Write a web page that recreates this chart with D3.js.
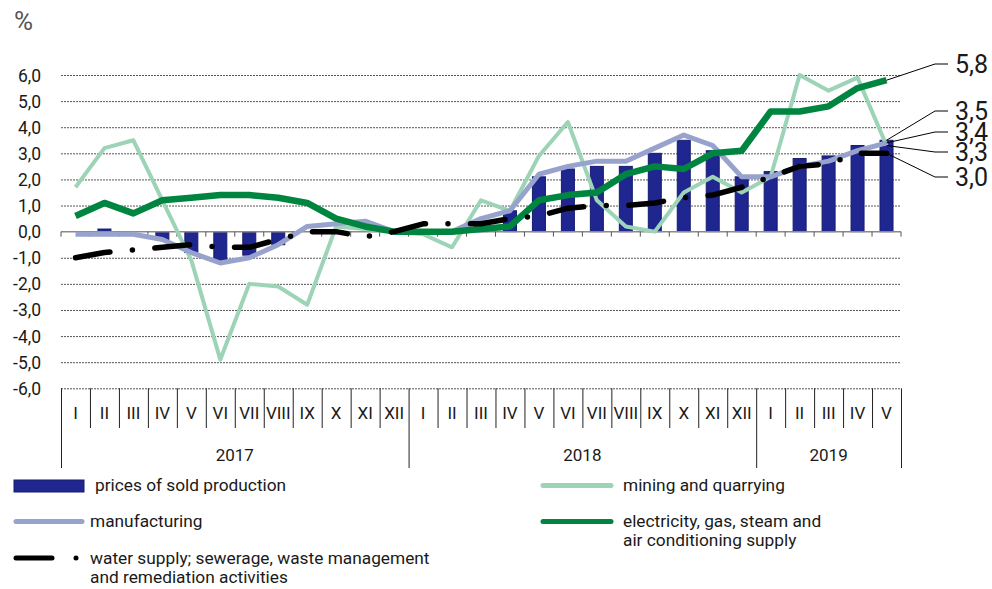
<!DOCTYPE html>
<html>
<head>
<meta charset="utf-8">
<script src="https://cdn.jsdelivr.net/npm/d3@7"></script>
<style>
  body { margin: 0; background: #fff; }
  svg { display: block; font-family: Roboto, "Open Sans", sans-serif; }
</style>
</head>
<body>
<div id="graph"></div>
<script>
// months and years on the category axis
const months = ["I","II","III","IV","V","VI","VII","VIII","IX","X","XI","XII",
                "I","II","III","IV","V","VI","VII","VIII","IX","X","XI","XII",
                "I","II","III","IV","V"]
const years = [{ label: "2017", from: 0, to: 12 }, { label: "2018", from: 12, to: 24 }, { label: "2019", from: 24, to: 29 }]
const yTicks = [-6,-5,-4,-3,-2,-1,0,1,2,3,4,5,6]

// series values, %
const prices = [0, 0.1, 0, -0.3, -0.8, -1.1, -0.9, -0.5, 0, 0, 0, 0,
                0, 0, 0.2, 0.8, 2.1, 2.4, 2.5, 2.5, 3.0, 3.5, 3.1, 2.1,
                2.3, 2.8, 2.9, 3.3, 3.5]
const manufacturing = [-0.1, -0.1, -0.1, -0.3, -0.8, -1.2, -1.0, -0.5, 0.2, 0.3, 0.4, 0.0,
                       0.0, 0.0, 0.5, 0.8, 2.2, 2.5, 2.7, 2.7, 3.2, 3.7, 3.3, 2.1,
                       2.1, 2.5, 2.7, 3.1, 3.4]
const mining = [1.7, 3.2, 3.5, 1.2, -1.1, -4.9, -2.0, -2.1, -2.8, 0.2, 0.1, 0.0,
                -0.1, -0.6, 1.2, 0.8, 2.9, 4.2, 1.2, 0.2, 0.0, 1.5, 2.1, 1.5,
                2.1, 6.0, 5.4, 5.9, 3.3]
const electricity = [0.6, 1.1, 0.7, 1.2, 1.3, 1.4, 1.4, 1.3, 1.1, 0.5, 0.2, 0.0,
                     0.0, 0.0, 0.1, 0.2, 1.2, 1.4, 1.5, 2.2, 2.5, 2.4, 3.0, 3.1,
                     4.6, 4.6, 4.8, 5.5, 5.8]
const water = [-1.0, -0.8, -0.7, -0.6, -0.5, -0.6, -0.6, -0.3, 0.0, 0.0, -0.2, 0.0,
               0.3, 0.3, 0.3, 0.5, 0.6, 0.9, 1.0, 1.0, 1.1, 1.3, 1.4, 1.7,
               2.1, 2.5, 2.6, 3.0, 3.0]

// end-of-series labels (value, label baseline)
const endLabels = [
  { value: electricity[28], text: "5,8", y: 73 },
  { value: prices[28], text: "3,5", y: 120 },
  { value: manufacturing[28], text: "3,4", y: 141 },
  { value: mining[28], text: "3,3", y: 161 },
  { value: water[28], text: "3,0", y: 186 }
]

const width = 992, height = 589
const svg = d3.select('#graph').append('svg').attr('width', width).attr('height', height)

const plotLeft = 61, plotRight = 901, plotTop = 75, plotBottom = 388.3

const xScale = d3.scaleBand().domain(d3.range(months.length)).range([plotLeft, plotRight]).padding(0)
const yScale = d3.scaleLinear().domain([-6, 6]).range([plotBottom, plotTop])
const step = xScale.step()
const xc = i => xScale(i) + step / 2

// "%" unit
svg.append('text').attr('x', 14).attr('y', 30).attr('font-size', 26).attr('fill', '#555').text('%')

// gridlines
svg.append('g').selectAll('line').data(yTicks.filter(v => v !== 0)).join('line')
  .attr('x1', plotLeft).attr('x2', plotRight)
  .attr('y1', d => yScale(d) + 0.5).attr('y2', d => yScale(d) + 0.5)
  .attr('stroke', '#555').attr('stroke-width', 1).attr('stroke-dasharray', '2,1')

// y tick labels
svg.append('g').selectAll('text').data(yTicks).join('text')
  .attr('x', 41).attr('y', d => yScale(d) + 6.5)
  .attr('text-anchor', 'end').attr('font-size', 17.5).attr('fill', '#1a1a1a')
  .text(d => d3.format('.1f')(d).replace('.', ',').replace('−', '-'))

// bars
svg.append('g').selectAll('rect').data(prices).join('rect')
  .attr('x', (d, i) => xc(i) - 6.5)
  .attr('width', 13)
  .attr('y', d => yScale(Math.max(0, d)))
  .attr('height', d => Math.abs(yScale(d) - yScale(0)))
  .attr('fill', '#1f2690').attr('stroke', '#161c6e').attr('stroke-width', d => d === 0 ? 0 : 1)

// zero line + small ticks
svg.append('line').attr('x1', plotLeft).attr('x2', plotRight)
  .attr('y1', yScale(0)).attr('y2', yScale(0)).attr('stroke', '#8a8a8a').attr('stroke-width', 1.5)
svg.append('g').selectAll('line').data(d3.range(months.length + 1)).join('line')
  .attr('x1', i => plotLeft + i * step).attr('x2', i => plotLeft + i * step)
  .attr('y1', yScale(0)).attr('y2', yScale(0) + 5)
  .attr('stroke', '#555').attr('stroke-width', 1)

// lines
const line = d3.line().x((d, i) => xc(i)).y(d => yScale(d))

svg.append('path').datum(mining).attr('d', line)
  .attr('fill', 'none').attr('stroke', '#9dd3b6').attr('stroke-width', 4).attr('stroke-linejoin', 'round')
svg.append('path').datum(manufacturing).attr('d', line)
  .attr('fill', 'none').attr('stroke', '#98a3cd').attr('stroke-width', 5).attr('stroke-linejoin', 'round')
svg.append('path').datum(electricity).attr('d', line)
  .attr('fill', 'none').attr('stroke', '#008540').attr('stroke-width', 6.5).attr('stroke-linejoin', 'round')
svg.append('path').datum(water).attr('d', line)
  .attr('fill', 'none').attr('stroke', '#000').attr('stroke-width', 5.5)
  .attr('stroke-linecap', 'round').attr('stroke-linejoin', 'round')
  .attr('stroke-dasharray', '35,22.5,0,22.5')

// category axis separators
const bounds = d3.range(months.length + 1)
const yearBounds = [0, 12, 24, 29]
svg.append('g').selectAll('line').data(bounds).join('line')
  .attr('x1', i => plotLeft + i * step + 0.5).attr('x2', i => plotLeft + i * step + 0.5)
  .attr('y1', plotBottom).attr('y2', i => yearBounds.includes(i) ? 468 : 428)
  .attr('stroke', '#222').attr('stroke-width', 1)

svg.append('g').selectAll('text').data(months).join('text')
  .attr('x', (d, i) => xc(i)).attr('y', 418.5)
  .attr('text-anchor', 'middle').attr('font-size', 17).attr('fill', '#1a1a1a')
  .text(d => d)

svg.append('g').selectAll('text').data(years).join('text')
  .attr('x', d => (plotLeft + d.from * step + plotLeft + d.to * step) / 2).attr('y', 461)
  .attr('text-anchor', 'middle').attr('font-size', 17).attr('fill', '#1a1a1a')
  .text(d => d.label)

// end labels with leader lines
const lastX = xc(months.length - 1)
endLabels.forEach(l => {
  const ly = l.y - 9
  svg.append('polyline')
    .attr('points', `${lastX},${yScale(l.value)} ${935},${ly} ${948},${ly}`)
    .attr('fill', 'none').attr('stroke', '#000').attr('stroke-width', 1)
  svg.append('text').attr('x', 955).attr('y', l.y)
    .attr('font-size', 25).attr('fill', '#1a1a1a').text(l.text)
})

// legend
const legend = svg.append('g').attr('font-size', 17.3).attr('fill', '#1a1a1a')
legend.append('rect').attr('x', 14).attr('y', 480).attr('width', 70).attr('height', 12)
  .attr('fill', '#1f2690').attr('stroke', '#161c6e').attr('stroke-width', 1)
legend.append('text').attr('x', 95).attr('y', 491).text('prices of sold production')

legend.append('line').attr('x1', 16).attr('x2', 82).attr('y1', 521.5).attr('y2', 521.5)
  .attr('stroke', '#98a3cd').attr('stroke-width', 5).attr('stroke-linecap', 'round')
legend.append('text').attr('x', 90).attr('y', 527).text('manufacturing')

legend.append('line').attr('x1', 16).attr('x2', 52).attr('y1', 558).attr('y2', 558)
  .attr('stroke', '#000').attr('stroke-width', 5).attr('stroke-linecap', 'round')
legend.append('circle').attr('cx', 76).attr('cy', 558).attr('r', 2.5).attr('fill', '#000')
legend.append('text').attr('x', 90).attr('y', 564).text('water supply; sewerage, waste management')
legend.append('text').attr('x', 90).attr('y', 583).text('and remediation activities')

legend.append('line').attr('x1', 543).attr('x2', 611).attr('y1', 485.5).attr('y2', 485.5)
  .attr('stroke', '#9dd3b6').attr('stroke-width', 5).attr('stroke-linecap', 'round')
legend.append('text').attr('x', 623).attr('y', 491).text('mining and quarrying')

legend.append('line').attr('x1', 543).attr('x2', 611).attr('y1', 521.5).attr('y2', 521.5)
  .attr('stroke', '#008540').attr('stroke-width', 5).attr('stroke-linecap', 'round')
legend.append('text').attr('x', 623).attr('y', 527).text('electricity, gas, steam and')
legend.append('text').attr('x', 623).attr('y', 546).text('air conditioning supply')
</script>
</body>
</html>
